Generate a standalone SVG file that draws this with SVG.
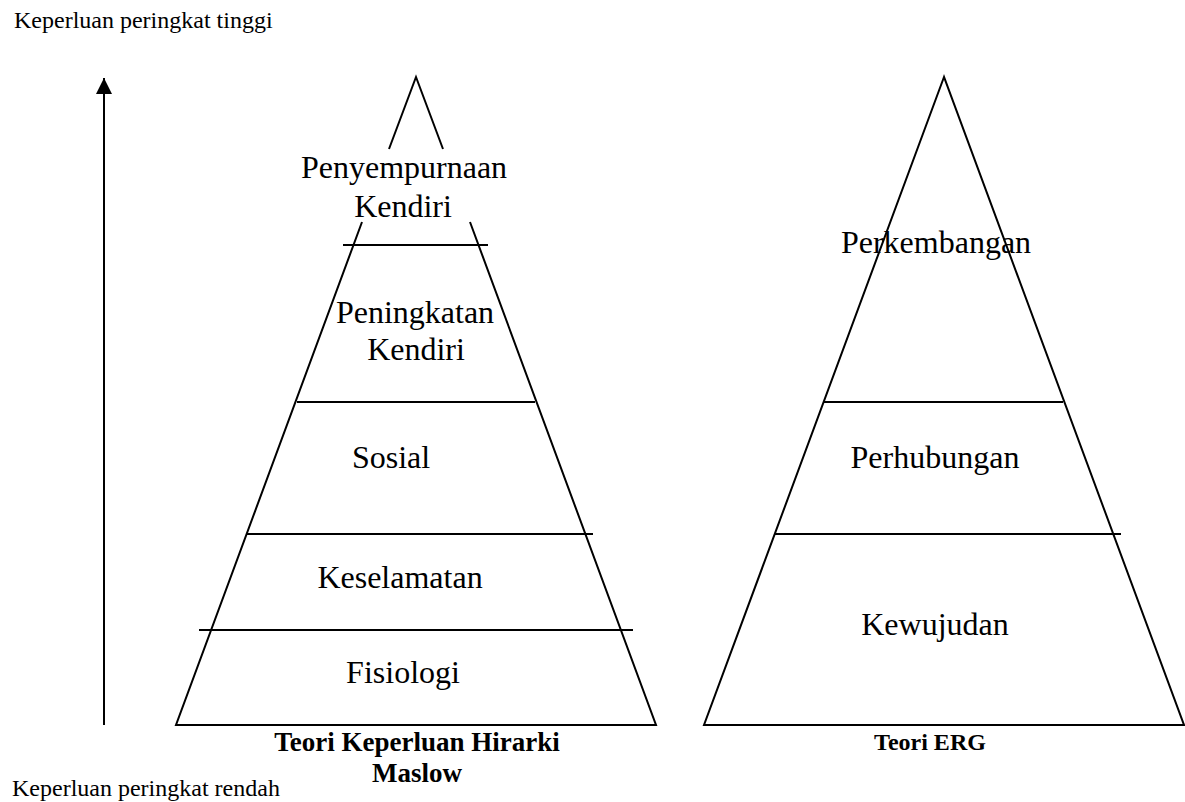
<svg xmlns="http://www.w3.org/2000/svg" width="1185" height="802" viewBox="0 0 1185 802">
<defs>
<style>
.ln{stroke:#000;stroke-width:2;fill:none}
.sm{font-family:"Liberation Serif","Times New Roman",serif;font-size:24px;fill:#000}
.bg{font-family:"Liberation Serif","Times New Roman",serif;font-size:32px;fill:#000;text-anchor:middle}
.tt{font-family:"Liberation Serif","Times New Roman",serif;font-weight:bold;fill:#000;text-anchor:middle}
</style>
<marker id="ah" viewBox="0 0 16 16" refX="16" refY="8" markerWidth="16" markerHeight="16" markerUnits="userSpaceOnUse" orient="auto">
<path d="M0,0 L16,8 L0,16 Z" fill="#000"/>
</marker>
</defs>
<rect width="1185" height="802" fill="#fff"/>
<text class="sm" x="14" y="28">Keperluan peringkat tinggi</text>
<text class="sm" x="12" y="796">Keperluan peringkat rendah</text>
<g id="connectors">
<line class="ln" x1="104" y1="725" x2="104" y2="78" marker-end="url(#ah)"/>
</g>
<g id="maslow">
<path class="ln" d="M389,149 L416,77 L443,149"/>
<path class="ln" d="M362,222 L176,725 L656,725 L470,222"/>
<line class="ln" x1="343" y1="245" x2="488" y2="245"/>
<line class="ln" x1="297" y1="402" x2="535" y2="402"/>
<line class="ln" x1="247" y1="534" x2="593" y2="534"/>
<line class="ln" x1="199" y1="630" x2="633" y2="630"/>
</g>
<g id="m-penyempurnaan"><text class="bg" x="404" y="178">Penyempurnaan</text><text class="bg" x="403" y="217">Kendiri</text></g>
<g id="m-peningkatan"><text class="bg" x="415" y="323">Peningkatan</text><text class="bg" x="416" y="360">Kendiri</text></g>
<g id="m-sosial"><text class="bg" x="391" y="468">Sosial</text></g>
<g id="m-keselamatan"><text class="bg" x="400" y="588">Keselamatan</text></g>
<g id="m-fisiologi"><text class="bg" x="403" y="683">Fisiologi</text></g>
<g id="m-title"><text class="tt" font-size="27" x="417" y="751">Teori Keperluan Hirarki</text><text class="tt" font-size="27" x="417" y="782">Maslow</text></g>
<g id="erg">
<path class="ln" d="M944,77 L704,725 L1184,725 Z"/>
<line class="ln" x1="824" y1="402" x2="1063" y2="402"/>
<line class="ln" x1="775" y1="534" x2="1121" y2="534"/>
</g>
<g id="e-perkembangan"><text class="bg" x="936" y="253">Perkembangan</text></g>
<g id="e-perhubungan"><text class="bg" x="935" y="468">Perhubungan</text></g>
<g id="e-kewujudan"><text class="bg" x="935" y="635">Kewujudan</text></g>
<g id="e-title"><text class="tt" font-size="24" x="930" y="750">Teori ERG</text></g>
</svg>
